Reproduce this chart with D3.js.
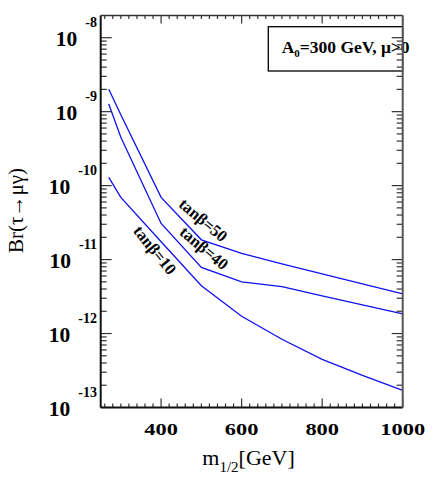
<!DOCTYPE html>
<html><head><meta charset="utf-8">
<script src="https://cdn.jsdelivr.net/npm/d3@7"></script>
<style>body{margin:0;background:#fff}</style>
</head><body>
<svg id="c" width="436" height="480"></svg>
<script>
const m12 = [270, 300, 400, 500, 600, 700, 800, 900, 1000];
const brTan50 = [2.01e-9, 9.06e-10, 6.93e-11, 1.85e-11, 1.21e-11, 8.75e-12, 6.41e-12, 4.70e-12, 3.44e-12];
const brTan40 = [1.27e-9, 4.51e-10, 3.08e-11, 7.85e-12, 5.00e-12, 4.31e-12, 3.23e-12, 2.44e-12, 1.85e-12];
const brTan10 = [1.29e-10, 6.92e-11, 1.74e-11, 4.42e-12, 1.71e-12, 8.36e-13, 4.48e-13, 2.72e-13, 1.70e-13];
const seriesNames = ["tanβ=50", "tanβ=40", "tanβ=10"];
const xTickLabels = [400, 600, 800, 1000];
const yDecades = [-13, -12, -11, -10, -9, -8];
// label anchor points in data space [m12, Br, angle]
const labelPos = [[505, 3.44e-11, 40], [507, 1.44e-11, 40], [385, 1.35e-11, 51]];

const svg = d3.select("#c");
const L = 100.7, R = 402.7, T = 15.5, B = 407.5;
const x = d3.scaleLinear().domain([250, 1000]).range([L, R]);
const y = d3.scaleLog().domain([1e-13, Math.pow(10, -7.7)]).range([B, T]);
const serif = "'Liberation Serif','Times New Roman',serif";

// legend box
svg.append("rect").attr("x", 268.3).attr("y", 26.7).attr("width", R - 268.3).attr("height", 44.3)
  .attr("fill", "#fff").attr("stroke", "#000").attr("stroke-width", 1.3);
const lt = svg.append("text").attr("x", 281.7).attr("y", 53.3)
  .attr("font-family", serif).attr("font-weight", "bold").attr("font-size", 17.5);
lt.append("tspan").text("A");
lt.append("tspan").attr("font-size", 11).attr("dy", 4).text("0");
lt.append("tspan").attr("dy", -4).text("=300 GeV, μ>0");

// curves
const line = d3.line().x(d => x(d[0])).y(d => y(d[1]));
[brTan50, brTan40, brTan10].forEach(s => {
  svg.append("path").datum(m12.map((m, i) => [m, s[i]])).attr("d", line)
    .attr("fill", "none").attr("stroke", "#1010f0").attr("stroke-width", 1.3);
});
// curve labels
seriesNames.forEach((n, i) => {
  const p = labelPos[i];
  svg.append("text").attr("transform", `translate(${x(p[0])},${y(p[1])}) rotate(${p[2]})`)
    .attr("text-anchor", "middle").attr("dy", "0.35em")
    .attr("font-family", serif).attr("font-weight", "bold").attr("font-size", 16.5).text(n);
});

// ticks
const xMinor = d3.range(260, 1001, 20);
const yMinor = [];
for (let e = -13; e <= -8; e++) for (let k = 1; k <= 9; k++) {
  const v = k * Math.pow(10, e);
  if (v >= 1e-13 && v <= Math.pow(10, -7.7)) yMinor.push([v, k === 1]);
}
const tk = svg.append("g").attr("stroke", "#333").attr("stroke-width", 1.2);
xMinor.forEach(v => {
  const major = v % 200 === 0;
  const len = major ? 9 : 4;
  tk.append("line").attr("x1", x(v)).attr("x2", x(v)).attr("y1", B).attr("y2", B - len);
  tk.append("line").attr("x1", x(v)).attr("x2", x(v)).attr("y1", T).attr("y2", T + (major ? 8 : 3.5));
});
yMinor.forEach(([v, major]) => {
  const len = major ? 11 : 6;
  tk.append("line").attr("x1", L).attr("x2", L + len).attr("y1", y(v)).attr("y2", y(v));
  tk.append("line").attr("x1", R).attr("x2", R - len).attr("y1", y(v)).attr("y2", y(v));
});
// frame
svg.append("line").attr("x1", L).attr("x2", R).attr("y1", B).attr("y2", B).attr("stroke", "#111").attr("stroke-width", 2);
svg.append("line").attr("x1", L).attr("x2", L).attr("y1", T).attr("y2", B).attr("stroke", "#111").attr("stroke-width", 2);
svg.append("line").attr("x1", L).attr("x2", R).attr("y1", T).attr("y2", T).attr("stroke", "#333").attr("stroke-width", 1.6);
svg.append("line").attr("x1", R).attr("x2", R).attr("y1", T).attr("y2", B).attr("stroke", "#555").attr("stroke-width", 2);

// x tick labels (glyphs in the reference are horizontally wide)
xTickLabels.forEach(v => {
  svg.append("text").attr("transform", `translate(${x(v)},435) scale(1.28,1)`).attr("text-anchor", "middle")
    .attr("font-family", serif).attr("font-weight", "bold").attr("font-size", 17.5).text(v);
});
// y tick labels
yDecades.forEach(e => {
  const t = svg.append("text").attr("x", 97).attr("y", y(Math.pow(10, e)) + 8.4)
    .attr("text-anchor", "end").attr("font-family", serif).attr("font-weight", "bold");
  t.append("tspan").attr("font-size", 21.5).text("10");
  t.append("tspan").attr("font-size", 14).attr("dx", 8).attr("dy", -19).text(String(e));
});
// axis titles
const xt = svg.append("text").attr("x", 202.3).attr("y", 465).attr("font-family", serif).attr("font-size", 22);
xt.append("tspan").text("m");
xt.append("tspan").attr("font-size", 15).attr("dy", 7).text("1/2");
xt.append("tspan").attr("dy", -7).text("[GeV]");
svg.append("text").attr("transform", "translate(23,210.5) rotate(-90)").attr("text-anchor", "middle")
  .attr("font-family", serif).attr("font-size", 21).text("Br(τ→μγ)");
</script>
</body></html>
